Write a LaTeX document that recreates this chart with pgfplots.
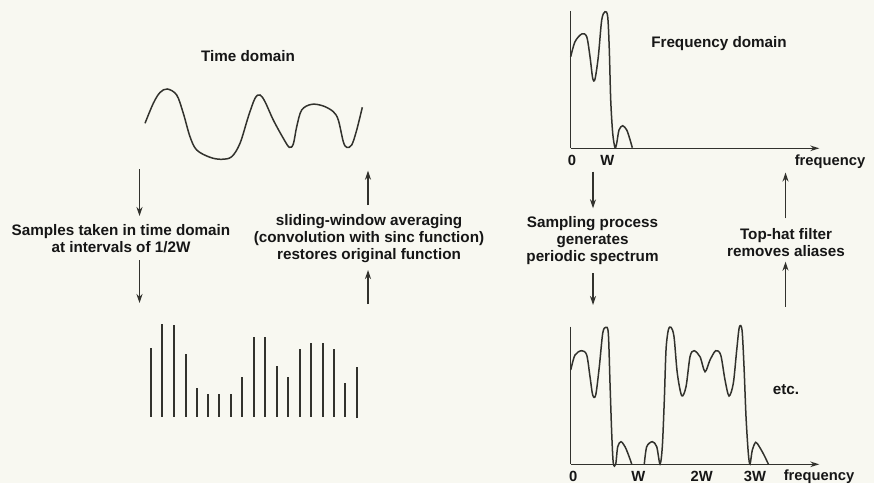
\documentclass[border=0pt]{standalone}
\usepackage{fontspec}
\setmainfont{Liberation Sans}
\usepackage{pgfplots}
\pgfplotsset{compat=1.18}
\usetikzlibrary{arrows.meta}
\definecolor{bg}{RGB}{248,248,241}
\definecolor{ink}{RGB}{50,50,45}
\definecolor{txt}{RGB}{22,22,22}
\tikzset{
  lbl/.style={font=\fontsize{15.3}{17}\selectfont\bfseries, align=center, text=txt, inner sep=0pt},
  tl/.style={font=\fontsize{14.8}{17}\selectfont\bfseries, text=txt, inner sep=0pt},
  arr/.style={ink, line width=1.3bp, -{Stealth[length=9bp,width=6bp]}}}
\begin{document}
\begin{tikzpicture}[x=1bp,y=1bp]
\fill[bg] (0,0) rectangle (874,483);
\begin{axis}[at={(0,0)}, anchor=south west, scale only axis,
  width=874bp, height=483bp, xmin=0, xmax=874, ymin=0, ymax=483,
  y dir=reverse, hide axis, clip=false, unbounded coords=jump]
% time-domain curve
\addplot[ink, line width=1.5bp, smooth, tension=0.55] coordinates {
(145,123.3)(153.3,103.3)(160,92.5)(167.3,89)(176.7,95)(183.3,113.3)(190,136.7)(196.7,150)(210,157.3)(221.7,159.3)(231.7,156.7)(240,143.3)(248.3,116.7)(255,98.3)(260,95)(265,101.7)(273.3,120)(283.3,138.3)(289.3,147.3)(293.3,144)(296.7,126.7)(301.7,110)(311.7,104.3)(323.3,106)(333.3,111.7)(338.3,120)(343.3,141.7)(346.7,147.3)(351.7,145)(356.7,130)(362.3,107.3)};
% samples
\addplot[ink, line width=1.8bp] coordinates {
(151,416.7)(151,348.3) (nan,nan)
(162,416.7)(162,324.3) (nan,nan)
(174,416.7)(174,325) (nan,nan)
(186,416.7)(186,354) (nan,nan)
(197,416.7)(197,388.3) (nan,nan)
(208,416.7)(208,394) (nan,nan)
(219,416.7)(219,394) (nan,nan)
(231,416.7)(231,394) (nan,nan)
(242,416.7)(242,377.3) (nan,nan)
(254,416.7)(254,337.3) (nan,nan)
(265,416.7)(265,337.3) (nan,nan)
(277,416.7)(277,365.7) (nan,nan)
(288,416.7)(288,377.3) (nan,nan)
(300,416.7)(300,349) (nan,nan)
(311,416.7)(311,343.3) (nan,nan)
(323,416.7)(323,343.3) (nan,nan)
(334,416.7)(334,349.3) (nan,nan)
(345,416.7)(345,383.3) (nan,nan)
(357,418)(357,366.7)};
% top frequency axes
\addplot[ink, line width=1.3bp] coordinates {(570.7,11)(570.7,148.3)};
\addplot[ink, line width=1.3bp, -{Stealth[length=9bp,width=5.5bp]}] coordinates {(570.7,148.3)(819.3,148.3)};
\addplot[ink, line width=1.5bp, smooth, tension=0.5] coordinates {
(570.7,56.7)(575,41.7)(581.7,34)(586.7,36.7)(590,56.7)(592.7,78.3)(595,79)(598.3,56.7)(601.7,20)(605,11.7)(607.7,16.7)(609.3,50)(610.7,100)(612.7,133.3)(615,147.7)(616.7,143.3)(619,130)(622.7,125.7)(626.7,130)(629.5,138)(632.3,147.7)};
% bottom frequency axes
\addplot[ink, line width=1.3bp] coordinates {(570.7,326.7)(570.7,464.3)};
\addplot[ink, line width=1.3bp, -{Stealth[length=9bp,width=5.5bp]}] coordinates {(570.7,464.3)(819.3,464.3)};
\addplot[ink, line width=1.5bp, smooth, tension=0.5] coordinates {
(570.7,370)(575,355)(581.7,350.7)(586.7,355)(590,376.7)(592.7,395)(595.7,395)(599.3,366.7)(602.7,333.3)(605.7,327.3)(608.3,333.3)(610,383.3)(611.7,433.3)(613.3,463.3)(615.7,464)(617.7,446.7)(621,441.7)(625,446.7)(628.5,455)(631.7,464)};
\addplot[ink, line width=1.5bp, smooth, tension=0.5] coordinates {
(644.3,464)(646.7,446.7)(652.3,441.7)(656.7,446.7)(660,464)(662.3,446.7)(664.3,400)(666,350)(668.3,330)(671,327.3)(674,336.7)(677.3,373.3)(681.7,395.7)(686,386.7)(690,356.7)(694,350.7)(700,356.7)(705,371.7)(710,360)(715.7,350.7)(720.7,355)(725,380)(729,396)(733.3,383.3)(736.7,350)(739.3,327.3)(742,330)(744,366.7)(746,416.7)(748.3,453.3)(750,464)(752.3,450)(755.7,442.3)(759.3,446.7)(764,455)(768.3,464)};
% arrows
\draw[arr] (axis cs:139.5,169) -- (axis cs:139.5,216);
\draw[arr] (axis cs:139.5,260) -- (axis cs:139.5,303);
\draw[arr] (axis cs:368,205) -- (axis cs:368,170.7);
\draw[arr] (axis cs:368,304) -- (axis cs:368,270);
\draw[arr] (axis cs:593,171.7) -- (axis cs:593,208.3);
\draw[arr] (axis cs:593,273.3) -- (axis cs:593,305);
\draw[arr] (axis cs:785.5,218.3) -- (axis cs:785.5,172.5);
\draw[arr] (axis cs:785.5,306.7) -- (axis cs:785.5,261.7);
% texts
\node[lbl] at (axis cs:248,56) {Time domain};
\node[lbl] at (axis cs:121,238.5) {Samples taken in time domain\\at intervals of 1/2W};
\node[lbl] at (axis cs:369,239) {sliding-window averaging\\(convolution with sinc function)\\restores original function};
\node[lbl] at (axis cs:719,43.3) {Frequency domain};
\node[lbl] at (axis cs:592.5,240.2) {Sampling process\\generates\\periodic spectrum};
\node[lbl] at (axis cs:786,242.5) {Top-hat filter\\removes aliases};
\node[lbl] at (axis cs:786,389.3) {etc.};
\node[tl] at (axis cs:572,160) {0};
\node[tl] at (axis cs:607.3,160) {W};
\node[tl] at (axis cs:830,162) {frequency};
\node[tl] at (axis cs:573.3,476.7) {0};
\node[tl] at (axis cs:638.3,476.7) {W};
\node[tl] at (axis cs:701.7,476.7) {2W};
\node[tl] at (axis cs:755,476.7) {3W};
\node[tl] at (axis cs:819,476.7) {frequency};
\end{axis}
\end{tikzpicture}
\end{document}
